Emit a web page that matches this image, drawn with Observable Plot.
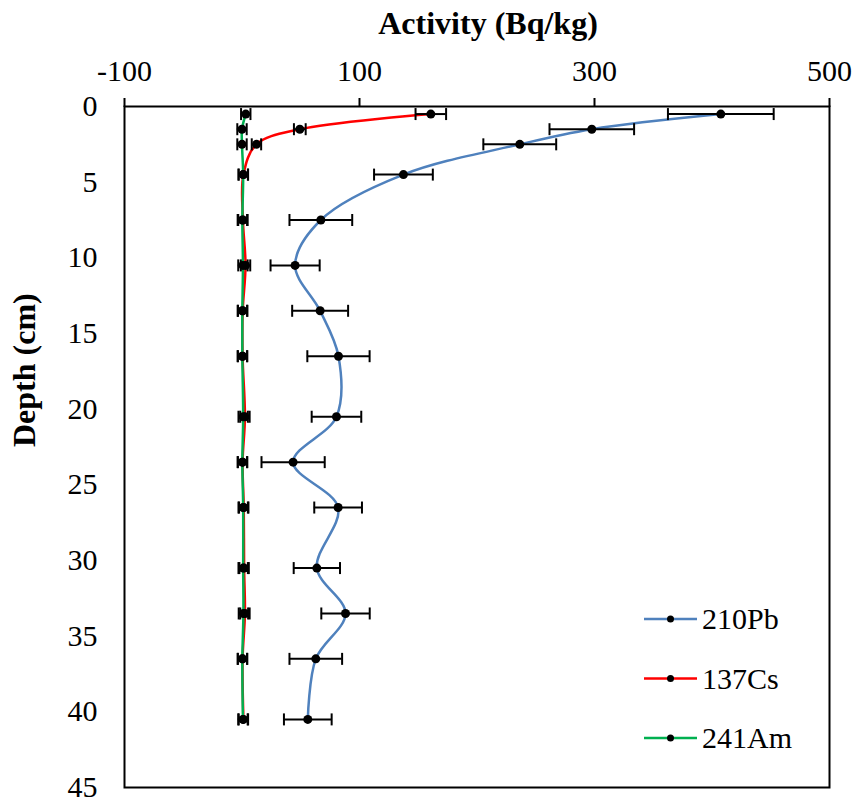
<!DOCTYPE html>
<html>
<head>
<meta charset="utf-8">
<script src="https://cdn.jsdelivr.net/npm/d3@7"></script>
<script src="https://cdn.jsdelivr.net/npm/@observablehq/plot@0.6"></script>
<style>
  body { margin: 0; background: #fff; }
  #chart { position: relative; width: 859px; height: 804px; }
  #legend { position: absolute; left: 0; top: 0; pointer-events: none; }
  #chart svg text { font-family: "Liberation Serif", "Times New Roman", Times, serif; }
</style>
</head>
<body>
<div id="chart"></div>
<script>
// Sampling depths (cm), mid-points of each core slice
const depth = [0.5, 1.5, 2.5, 4.5, 7.5, 10.5, 13.5, 16.5, 20.5, 23.5, 26.5, 30.5, 33.5, 36.5, 40.5];

// Activities (Bq/kg) and their uncertainties
const pb210    = [407.5, 297.7, 236.4, 137.4, 67.1, 45.2, 66.5, 82.1, 80.4, 43.5, 81.8, 63.7, 88.1, 62.8, 56.0];
const pb210Err = [45, 36, 31, 25, 26.7, 20.9, 23.8, 26.5, 21.1, 26.9, 20.3, 19.7, 20.6, 22.4, 20.3];
const cs137    = [160.7, 49.2, 12.3, 1.2, 0.8, 3.0, 0.6, 0.5, 2.5, 0.5, 1.5, 1.8, 2.5, 0.5, 1.2];
const cs137Err = [13, 5, 4, 4, 4, 4, 4, 4, 4, 4, 4, 4, 4, 4, 4];
const am241    = [3.2, 0.0, 0.0, 1.0, 0.3, 0.8, 0.3, 0.3, 1.0, 0.3, 1.0, 1.0, 1.2, 0.3, 0.8];
const am241Err = [4, 4, 4, 4, 4, 4, 4, 4, 4, 4, 4, 4, 4, 4, 4];

const seriesNames  = ["210Pb", "137Cs", "241Am"];
const seriesColors = ["#4f81bd", "#ff0000", "#00b050"];

const xTicks = [-100, 100, 300, 500];
const yTicks = [0, 5, 10, 15, 20, 25, 30, 35, 40, 45];

// Long-format table: one row per series and depth
const seriesValues = [pb210, cs137, am241];
const seriesErrors = [pb210Err, cs137Err, am241Err];
const rows = seriesNames.flatMap((name, s) =>
  depth.map((d, i) => ({
    series: name,
    depth: d,
    value: seriesValues[s][i],
    err: seriesErrors[s][i]
  }))
);

// Vertical bar used as the end cap of each error bar
const capSymbol = {
  draw(context, size) {
    const r = Math.sqrt(size / Math.PI);
    context.moveTo(0, -r);
    context.lineTo(0, r);
  }
};

const chart = Plot.plot({
  width: 859,
  height: 804,
  marginTop: 106,
  marginLeft: 124,
  marginRight: 30,
  marginBottom: 17,
  style: { fontSize: "30px", color: "black", background: "white" },
  x: { domain: [-100, 500], label: null },
  y: { domain: [0, 45], reverse: true, label: null },
  color: { domain: seriesNames, range: seriesColors },
  marks: [
    Plot.line(rows, {
      x: "value", y: "depth", z: "series", stroke: "series",
      curve: "catmull-rom", strokeWidth: 2.5
    }),
    Plot.ruleY(rows, {
      y: "depth", x1: d => d.value - d.err, x2: d => d.value + d.err,
      stroke: "black", strokeWidth: 2
    }),
    Plot.dot(rows, {
      x: d => d.value - d.err, y: "depth", symbol: capSymbol, r: 6,
      fill: "none", stroke: "black", strokeWidth: 2
    }),
    Plot.dot(rows, {
      x: d => d.value + d.err, y: "depth", symbol: capSymbol, r: 6,
      fill: "none", stroke: "black", strokeWidth: 2
    }),
    Plot.dot(rows, { x: "value", y: "depth", r: 4.5, fill: "black" }),
    Plot.frame({ stroke: "black", strokeWidth: 2 }),
    Plot.axisX(xTicks, {
      anchor: "top", tickSize: 9, tickPadding: 17, strokeWidth: 2,
      tickFormat: d => String(d), label: null
    }),
    Plot.axisY(yTicks, {
      anchor: "left", tickSize: 0, tickPadding: 27,
      tickFormat: d => String(d), label: null
    }),
    Plot.text(["Activity (Bq/kg)"], {
      text: d => d, frameAnchor: "top", lineAnchor: "bottom",
      dx: 11, dy: -73, fontWeight: "bold", fontSize: 32
    }),
    Plot.text(["Depth (cm)"], {
      text: d => d, frameAnchor: "left", rotate: -90,
      dx: -100, fontWeight: "bold", fontSize: 32
    })
  ]
});

const container = document.getElementById("chart");
container.appendChild(chart);

// Legend drawn inside the lower-right corner of the plot frame
const ns = "http://www.w3.org/2000/svg";
const legend = document.createElementNS(ns, "svg");
legend.setAttribute("id", "legend");
legend.setAttribute("width", 859);
legend.setAttribute("height", 804);
seriesNames.forEach((name, i) => {
  const cy = 619 + i * 59.5;
  const line = document.createElementNS(ns, "line");
  line.setAttribute("x1", 644); line.setAttribute("x2", 697);
  line.setAttribute("y1", cy); line.setAttribute("y2", cy);
  line.setAttribute("stroke", seriesColors[i]);
  line.setAttribute("stroke-width", 2.5);
  legend.appendChild(line);
  const dot = document.createElementNS(ns, "circle");
  dot.setAttribute("cx", 670.5); dot.setAttribute("cy", cy); dot.setAttribute("r", 3.5);
  dot.setAttribute("fill", "black");
  legend.appendChild(dot);
  const label = document.createElementNS(ns, "text");
  label.setAttribute("x", 702); label.setAttribute("y", cy + 10);
  label.setAttribute("font-size", 30);
  label.setAttribute("fill", "black");
  label.textContent = name;
  legend.appendChild(label);
});
container.appendChild(legend);
</script>
</body>
</html>
